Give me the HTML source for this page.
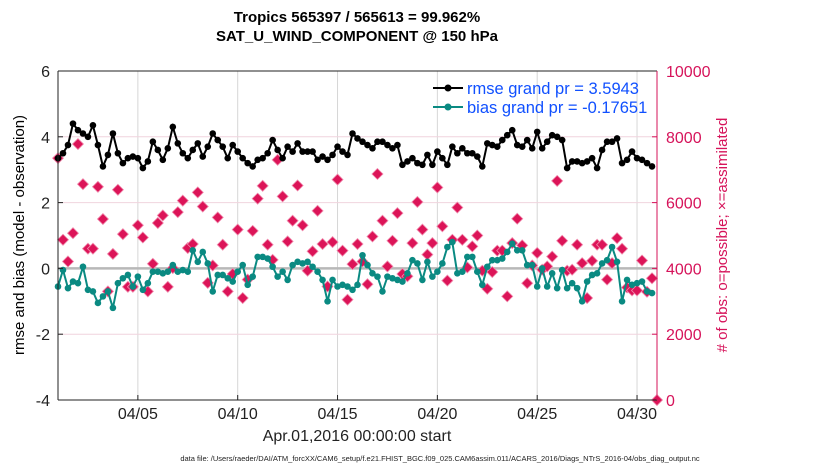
<!DOCTYPE html>
<html><head><meta charset="utf-8">
<style>
body{margin:0;background:#fff;}
svg{display:block;font-family:"Liberation Sans",sans-serif;}
</style></head>
<body>
<svg id="chart" width="830" height="470" viewBox="0 0 830 470">
<g id="grid"></g>
<g id="marks"></g>
<g id="axes"></g>
<text x="357" y="22" text-anchor="middle" font-size="15" font-weight="bold">Tropics 565397 / 565613 = 99.962%</text>
<text x="357" y="41" text-anchor="middle" font-size="15" font-weight="bold">SAT_U_WIND_COMPONENT @ 150 hPa</text>
<text transform="translate(24,235) rotate(-90)" text-anchor="middle" font-size="15">rmse and bias (model - observation)</text>
<text transform="translate(727,235) rotate(-90)" text-anchor="middle" font-size="15" fill="#d6135a"># of obs: o=possible; ×=assimilated</text>
<text x="357" y="441" text-anchor="middle" font-size="16" fill="#222">Apr.01,2016 00:00:00 start</text>
<text x="440" y="461" text-anchor="middle" font-size="7.5" fill="#222">data file: /Users/raeder/DAI/ATM_forcXX/CAM6_setup/f.e21.FHIST_BGC.f09_025.CAM6assim.011/ACARS_2016/Diags_NTrS_2016-04/obs_diag_output.nc</text>
<g>
<line x1="433" y1="88" x2="463" y2="88" stroke="#000" stroke-width="2"/>
<circle cx="448" cy="88" r="3.5" fill="#000"/>
<text x="467" y="94" font-size="16.5" fill="#1050ff">rmse grand pr = 3.5943</text>
<line x1="433" y1="107" x2="463" y2="107" stroke="#0a8a82" stroke-width="2"/>
<circle cx="448" cy="107" r="3.5" fill="#0a8a82"/>
<text x="467" y="113" font-size="16.5" fill="#1050ff">bias grand pr = -0.17651</text>
</g>
</svg>
<script>
const rmse=[3.35,3.5,3.75,4.4,4.2,4.1,4.0,4.35,3.75,3.1,3.45,4.1,3.5,3.2,3.35,3.4,3.35,3.05,3.25,3.85,3.6,3.3,3.65,4.3,3.8,3.5,3.35,3.6,3.8,3.4,3.7,4.1,3.9,3.7,3.35,3.75,3.55,3.35,3.2,3.1,3.3,3.35,3.5,3.9,3.6,3.35,3.7,3.55,3.8,3.55,3.55,3.55,3.3,3.4,3.3,3.45,3.7,
3.55,3.45,4.1,3.95,3.85,3.75,3.65,3.85,3.85,3.75,3.65,3.75,3.15,3.25,3.35,3.2,3.15,3.45,3.15,3.55,3.35,3.15,3.7,3.5,3.65,3.5,3.5,3.4,3.1,3.8,3.75,3.7,3.9,4.05,4.2,3.75,3.7,3.9,3.65,4.15,3.65,3.85,4.05,4.0,3.9,3.05,3.25,3.25,3.2,3.25,3.35,3.05,3.6,3.85,3.85,3.95,3.2,3.3,
3.55,3.35,3.3,3.2,3.1];
const bias=[-0.55,-0.05,-0.6,-0.4,-0.45,0.05,-0.65,-0.7,-1.05,-0.85,-0.7,-1.2,-0.45,-0.3,-0.2,-0.55,-0.25,-0.65,-0.45,-0.1,-0.1,-0.15,-0.1,0.1,-0.1,-0.05,-0.1,0.55,0.2,0.5,0.15,-0.7,-0.2,-0.2,-0.3,-0.4,-0.1,0.1,-0.5,-0.25,0.35,0.35,0.3,0.05,-0.25,-0.1,-0.35,0.1,0.2,0.15,0.2,0.05,-0.1,-0.35,-1.0,-0.35,-0.55,
-0.5,-0.55,-0.65,-0.5,0.4,0.1,-0.15,-0.25,-0.7,-0.25,-0.3,-0.35,-0.4,-0.15,0.25,0.15,-0.35,0.2,-0.25,-0.1,0.15,0.65,0.8,-0.15,-0.1,0.35,0.35,-0.1,-0.5,0.05,0.25,0.25,0.3,0.5,0.75,0.55,0.55,0.1,0.1,-0.55,0.0,-0.55,-0.15,-0.6,-0.05,-0.6,-0.45,-0.6,-1.0,-0.4,-0.2,-0.15,0.15,0.25,0.65,0.2,-1.0,-0.35,
-0.5,-0.45,-0.4,-0.7,-0.75];
const nobs=[7350,4870,4210,5070,7780,6560,4600,4600,6480,5500,3300,4440,6390,5040,3440,3440,5310,4940,3300,4140,5380,5610,3440,4010,5710,6060,4620,4740,6310,5880,3560,4090,5550,4720,3300,3830,5180,3100,3660,5140,6120,6510,4720,4260,7300,6190,4820,5450,6520,5310,3930,4520,5750,4740,3450,4800,6700,
4540,3050,4130,4740,4210,3520,4970,6870,5450,4060,4840,5680,3830,3760,4770,6020,5180,4420,4770,6460,5280,3630,4870,5850,4870,4030,4670,5000,3930,3380,3890,4540,4540,3150,4770,5510,4700,3550,4090,4470,3960,4060,4360,6660,4840,3930,3960,4720,4160,3100,4230,4720,4720,3660,4160,4920,4600,3420,
3330,3330,4240,3290,3700,0];
const xTickDays=[4,9,14,19,24,29];
const xTickLabels=["04/05","04/10","04/15","04/20","04/25","04/30"];
const yLeftTicks=[-4,-2,0,2,4,6];
const yRightTicks=[0,2000,4000,6000,8000,10000];
const stepDays=0.25;

const X0=58,X1=657,Y0=71,Y1=400,DAYS=30;
const xs=d=>X0+(d/DAYS)*(X1-X0);
const yl=v=>Y1-(v+4)/10*(Y1-Y0);
const yr=v=>Y1-v/10000*(Y1-Y0);
const NS="http://www.w3.org/2000/svg";
function mk(tag,attrs,parent){const e=document.createElementNS(NS,tag);for(const k in attrs)e.setAttribute(k,attrs[k]);parent.appendChild(e);return e;}
const grid=document.getElementById('grid'),marks=document.getElementById('marks'),axes=document.getElementById('axes');

xTickDays.forEach((d,i)=>{
  const g=mk('line',{x1:xs(d),x2:xs(d),y1:Y0,y2:Y1,stroke:'#d6d6d6','stroke-width':1},grid);
  
  
  const t=mk('text',{x:xs(d),y:419,'text-anchor':'middle','font-size':16,fill:'#222'},axes);
  t.textContent=xTickLabels[i];
  
  
  mk('line',{x1:xs(d),x2:xs(d),y1:Y1,y2:Y1-5,stroke:'#222'},axes);
});
yRightTicks.forEach(v=>{
  if(v>0&&v<10000&&v!==4000){
    const g=mk('line',{x1:X0,x2:X1,y1:yr(v),y2:yr(v),stroke:'#f0d4de','stroke-width':1},grid);
    
    
  }
  const t=mk('text',{x:666,y:yr(v)+6,'font-size':16,fill:'#d6135a'},axes);
  t.textContent=v;
  
  
  mk('line',{x1:X1,x2:X1-5,y1:yr(v),y2:yr(v),stroke:'#d6135a'},axes);
});
const z=mk('line',{x1:X0,x2:X1,y1:yl(0),y2:yl(0),stroke:'#b8b8b8','stroke-width':2.5},grid);


yLeftTicks.forEach(v=>{
  const t=mk('text',{x:50,y:yl(v)+6,'text-anchor':'end','font-size':16,fill:'#222'},axes);
  t.textContent=v;
  
  
  mk('line',{x1:X0,x2:X0+5,y1:yl(v),y2:yl(v),stroke:'#222'},axes);
});
mk('line',{x1:X0,x2:X0,y1:Y0,y2:Y1,stroke:'#222'},axes);
mk('line',{x1:X0,x2:X1,y1:Y1,y2:Y1,stroke:'#222'},axes);
mk('line',{x1:X0,x2:X1,y1:Y0,y2:Y0,stroke:'#222'},axes);
mk('line',{x1:X1,x2:X1,y1:Y0,y2:Y1,stroke:'#d6135a'},axes);

nobs.forEach((v,i)=>{
  const cx=i<rmse.length?xs(i*stepDays):X1, cy=yr(v), s=5.5;
  const p=mk('polygon',{points:`${cx},${cy-s} ${cx+s},${cy} ${cx},${cy+s} ${cx-s},${cy}`,fill:'#dc1458',stroke:'#f08aac','stroke-width':0.8},marks);
  
  
});
function series(arr,color,name){
  const pts=arr.map((v,i)=>`${xs(i*stepDays).toFixed(1)},${yl(v).toFixed(1)}`).join(' ');
  const pl=mk('polyline',{points:pts,fill:'none',stroke:color,'stroke-width':2},marks);
  
  
  arr.forEach((v,i)=>{
    const c=mk('circle',{cx:xs(i*stepDays),cy:yl(v),r:3.3,fill:color},marks);
    
    
  });
}
series(bias,'#0a8a82','bias');
series(rmse,'#000','rmse');
</script>
</body></html>
